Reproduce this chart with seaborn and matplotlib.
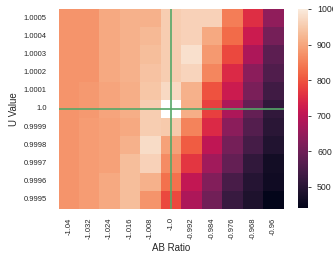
import numpy as np
import pandas as pd
import matplotlib
matplotlib.use('Agg')
import matplotlib.pyplot as plt
import seaborn as sns

# axis values
ab_ratio = [-1.04, -1.032, -1.024, -1.016, -1.008, -1.0, -0.992, -0.984, -0.976, -0.968, -0.96]
u_value = [1.0005, 1.0004, 1.0003, 1.0002, 1.0001, 1.0, 0.9999, 0.9998, 0.9997, 0.9996, 0.9995]

# cell values (one list per U value row, centre cell is empty)
row_10005 = [877, 877, 905, 916, 916, 955, 961, 961, 849, 754, 642]
row_10004 = [877, 877, 905, 916, 927, 955, 961, 905, 827, 721, 609]
row_10003 = [877, 877, 905, 916, 933, 955, 983, 883, 788, 681, 575]
row_10002 = [877, 877, 905, 916, 939, 955, 966, 860, 748, 637, 558]
row_10001 = [877, 883, 899, 911, 944, 972, 916, 799, 721, 614, 536]
row_10000 = [877, 883, 899, 911, 955, np.nan, 911, 776, 681, 586, 514]
row_09999 = [877, 888, 894, 905, 955, 950, 855, 748, 637, 564, 503]
row_09998 = [877, 888, 894, 916, 978, 894, 810, 704, 609, 542, 491]
row_09997 = [877, 888, 894, 933, 961, 866, 765, 665, 586, 514, 469]
row_09996 = [877, 888, 905, 933, 916, 832, 709, 625, 547, 497, 463]
row_09995 = [877, 888, 905, 933, 877, 788, 681, 603, 525, 486, 441]

rows = [row_10005, row_10004, row_10003, row_10002, row_10001, row_10000,
        row_09999, row_09998, row_09997, row_09996, row_09995]
df = pd.DataFrame(rows, index=u_value, columns=ab_ratio)

sns.set_theme(style='white')
plt.rcParams['font.family'] = ['Liberation Sans', 'DejaVu Sans']

fig = plt.figure(figsize=(3.33, 2.59), dpi=100)
ax = fig.add_axes([58.5 / 333, 50 / 259, 225 / 333, 200 / 259])
cax = fig.add_axes([298 / 333, 51 / 259, 10 / 333, 199 / 259])

sns.heatmap(df, ax=ax, cbar_ax=cax, cmap='rocket', vmin=441, vmax=1000)

# mark the reference point (AB ratio -1.0, U value 1.0)
ax.axvline(ab_ratio.index(-1.0) + 0.5, color='g', lw=1.2)
ax.axhline(u_value.index(1.0) + 0.5, color='g', lw=1.2)

ax.set_xlabel('AB Ratio', fontsize=7, color='#262626', labelpad=3)
ax.set_ylabel('U Value', fontsize=7, color='#262626', labelpad=3)
ax.tick_params(axis='both', labelsize=5.5, colors='#262626', length=0)
ax.tick_params(axis='x', pad=6)
ax.tick_params(axis='y', pad=8.5)
ax.set_xticklabels([str(v) for v in ab_ratio], rotation=90)
ax.set_yticklabels([str(v) for v in u_value], rotation=0)

cax.tick_params(labelsize=6.3, colors='#262626', length=2.5, width=0.6, pad=4)
cax.set_yticks([500, 600, 700, 800, 900, 1000])

fig.savefig('out.png', dpi=100)
